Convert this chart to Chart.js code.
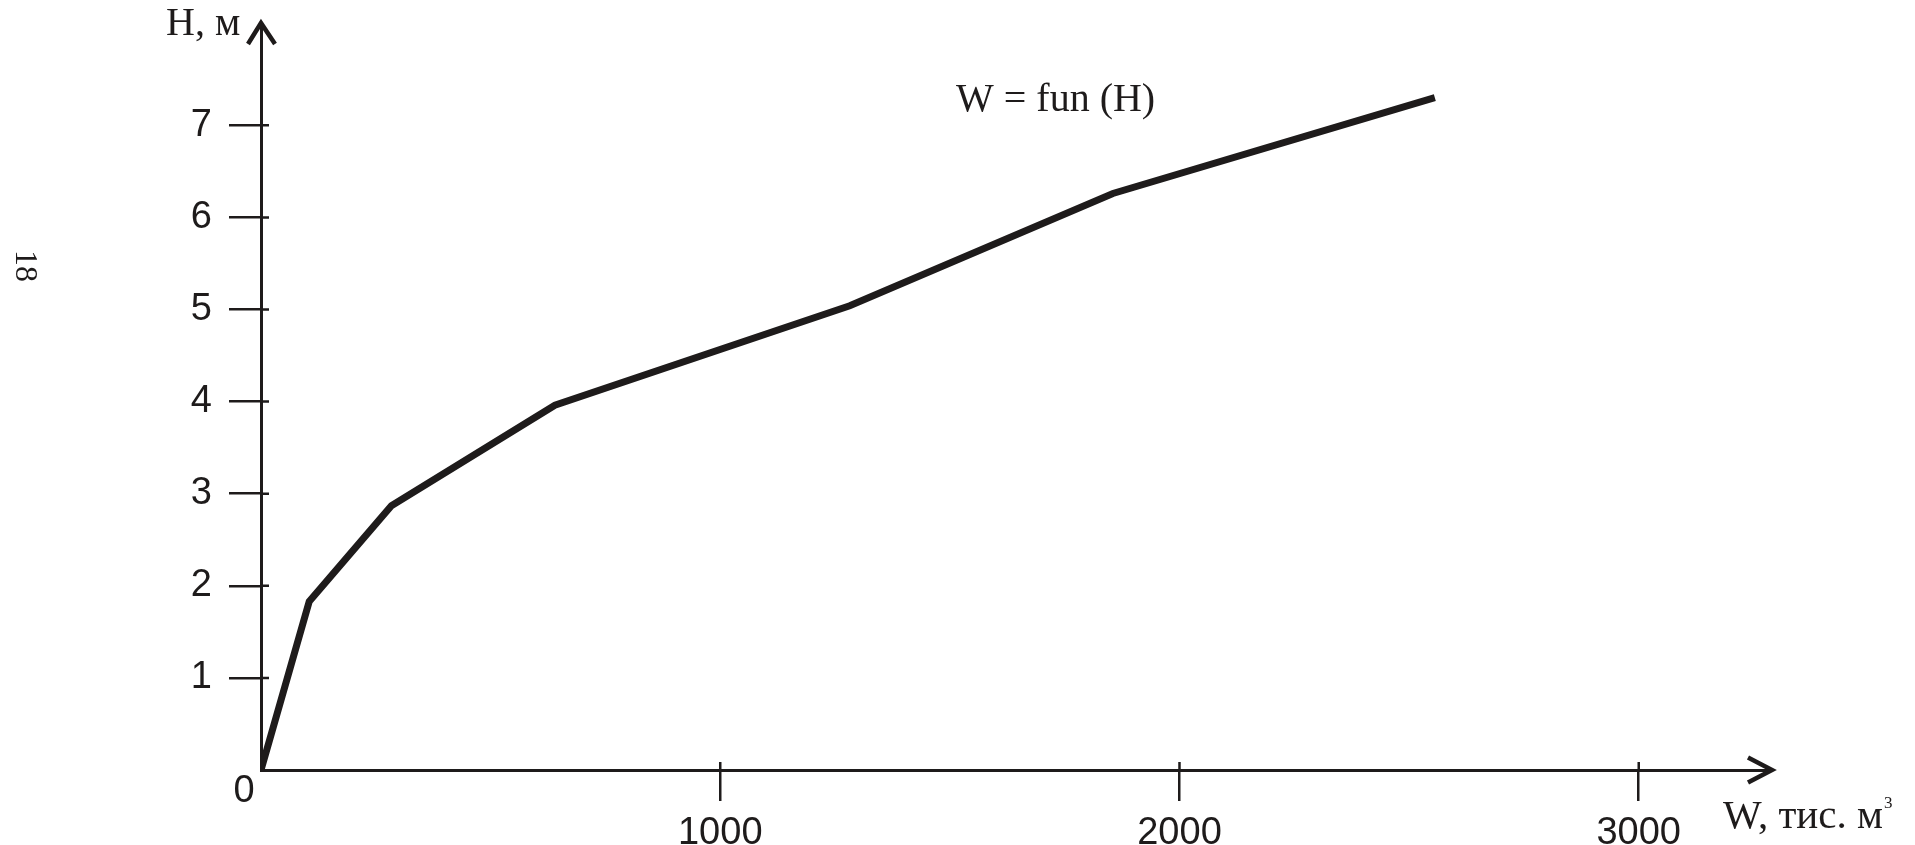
<!DOCTYPE html>
<html>
<head>
<meta charset="utf-8">
<script src="https://cdn.jsdelivr.net/npm/chart.js@4/dist/chart.umd.min.js"></script>
<style>
  html, body { margin: 0; padding: 0; background: #ffffff; }
  #wrap { width: 1915px; height: 845px; position: relative; }
</style>
</head>
<body>
<div id="wrap"><canvas id="volChart"></canvas></div>
<script>
// W, thousand m3 and H, m
const volume = [0, 105, 284, 640, 1282, 1855, 2556];
const depth = [0, 1.83, 2.87, 3.96, 5.04, 6.26, 7.3];
const xTicks = [1000, 2000, 3000];
const yTicks = [1, 2, 3, 4, 5, 6, 7];

const ink = "#1e1b1b";
const points = volume.map((w, i) => ({ x: w, y: depth[i] }));

// tick stubs inside the plot, arrow heads and free text
const decorations = {
  id: "decorations",
  afterDraw(chart) {
    const c = chart.ctx;
    const xs = chart.scales.x;
    const ys = chart.scales.y;
    const x0 = xs.getPixelForValue(0);
    const y0 = ys.getPixelForValue(0);
    const area = chart.chartArea;

    c.save();
    c.strokeStyle = ink;
    c.fillStyle = ink;
    c.lineWidth = 2.5;
    c.beginPath();
    yTicks.forEach(v => {
      const p = ys.getPixelForValue(v);
      c.moveTo(x0, p);
      c.lineTo(x0 + 8, p);
    });
    xTicks.forEach(v => {
      const p = xs.getPixelForValue(v);
      c.moveTo(p, y0);
      c.lineTo(p, y0 - 8);
    });
    c.stroke();

    // arrows
    c.lineWidth = 4.5;
    c.lineJoin = "miter";
    c.beginPath();
    c.moveTo(x0 - 13, area.top + 20);
    c.lineTo(x0, area.top - 1);
    c.lineTo(x0 + 14, area.top + 20);
    c.moveTo(area.right - 23, y0 - 12.5);
    c.lineTo(area.right + 1, y0);
    c.lineTo(area.right - 23, y0 + 12.5);
    c.stroke();

    // origin label
    c.font = '38px "Liberation Sans", Arial, sans-serif';
    c.textAlign = "center";
    c.textBaseline = "middle";
    c.fillText("0", x0 - 17, y0 + 22);

    c.textAlign = "left";
    c.textBaseline = "alphabetic";
    c.font = '40px "Liberation Serif", "Times New Roman", serif';
    c.fillText("H, м", 166, 35);
    c.font = '41px "Liberation Serif", "Times New Roman", serif';
    c.fillText("W, тис. м", 1723, 828);
    const wUnit = c.measureText("W, тис. м").width;
    c.font = '17px "Liberation Serif", "Times New Roman", serif';
    c.fillText("3", 1723 + wUnit + 1, 808);

    c.font = '40px "Liberation Serif", "Times New Roman", serif';
    c.fillText("W = fun (H)", 956, 111);

    // page number, turned with the page
    c.translate(24, 266);
    c.rotate(Math.PI / 2);
    c.font = '32px "Liberation Serif", "Times New Roman", serif';
    c.textAlign = "center";
    c.textBaseline = "middle";
    c.fillText("18", 0, 0);
    c.restore();
  }
};

const tickColor = ctx => (ctx.tick && ctx.tick.value === 0 ? "rgba(0,0,0,0)" : ink);

const ctx1 = document.getElementById("volChart").getContext("2d");
var chart1 = new Chart(ctx1, {
  type: "line",
  data: {
    datasets: [
      {
        label: "W = fun (H)",
        data: points,
        borderColor: ink,
        borderWidth: 7,
        borderJoinStyle: "miter",
        borderCapStyle: "butt",
        pointRadius: 0,
        tension: 0,
        fill: false,
      },
    ],
  },
  options: {
    responsive: true,
    maintainAspectRatio: false,
    animation: false,
    layout: {
      padding: { top: 24, right: 144, left: 0, bottom: 0 },
    },
    scales: {
      x: {
        type: "linear",
        min: 0,
        max: 3288,
        afterFit(scale) {
          scale.height = 75;
          scale.paddingLeft = 0;
          scale.paddingRight = 0;
        },
        afterBuildTicks(scale) { scale.ticks = [0].concat(xTicks).map(v => ({ value: v })); },
        border: { display: true, color: ink, width: 3 },
        grid: {
          display: true,
          drawOnChartArea: false,
          drawTicks: true,
          tickLength: 31,
          lineWidth: 2.5,
          color: tickColor,
        },
        ticks: {
          color: ink,
          padding: 10,
          maxRotation: 0,
          font: { family: '"Liberation Sans", Arial, sans-serif', size: 38 },
          callback: v => (v === 0 ? "" : v),
        },
      },
      y: {
        type: "linear",
        min: 0,
        max: 8.1,
        afterFit(scale) {
          scale.width = 261;
          scale.paddingTop = 0;
          scale.paddingBottom = 0;
        },
        afterBuildTicks(scale) { scale.ticks = [0].concat(yTicks).map(v => ({ value: v })); },
        border: { display: true, color: ink, width: 3 },
        grid: {
          display: true,
          drawOnChartArea: false,
          drawTicks: true,
          tickLength: 32,
          lineWidth: 2.5,
          color: tickColor,
        },
        ticks: {
          color: ink,
          padding: 17,
          font: { family: '"Liberation Sans", Arial, sans-serif', size: 38 },
          callback: v => (v === 0 ? "" : v),
        },
      },
    },
    plugins: {
      legend: { display: false },
      title: { display: false },
      tooltip: { enabled: false },
    },
  },
  plugins: [decorations],
});
</script>
</body>
</html>
